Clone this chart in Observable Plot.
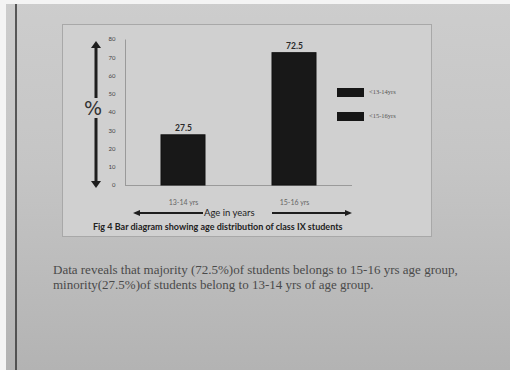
<!DOCTYPE html>
<html>
<head>
<meta charset="utf-8">
<script src="https://cdn.jsdelivr.net/npm/d3@7"></script>
<script src="https://cdn.jsdelivr.net/npm/@observablehq/plot@0.6"></script>
<style>
  html, body { margin: 0; padding: 0; background: #fff; }
  #page {
    position: relative; width: 510px; height: 370px; overflow: hidden;
    background: linear-gradient(180deg, #cdcdcd 0%, #c5c5c5 45%, #b3b3b3 100%);
  }
  #whiteTop { position: absolute; left: 0; top: 0; width: 510px; height: 4px; background: #f4f4f4; }
  #whiteLeft { position: absolute; left: 0; top: 0; width: 6px; height: 370px; background: #f4f4f4; }
  #margin { position: absolute; left: 15px; top: 4px; width: 2px; height: 366px; background: #3a3a3a; opacity: 0.8; }
  #box {
    position: absolute; left: 62px; top: 24px; width: 370px; height: 213px;
    background: #d0d0d0; border: 1px solid #a8a8a8; box-sizing: border-box;
  }
  #chart { position: absolute; left: 62px; top: 24px; }
  .txt { position: absolute; white-space: nowrap; font-family: Lato, sans-serif; color: #222; }
  .legsw { position: absolute; width: 27px; height: 9px; background: #161616; }
  .legtx { position: absolute; font-family: "Liberation Serif", serif; font-size: 6.5px; color: #555; white-space: nowrap; }
  #body { position: absolute; left: 53px; top: 262px; font-family: "Liberation Serif", serif; font-size: 13px; line-height: 15px; color: #4a4a4a; white-space: nowrap; }
</style>
</head>
<body>
<div id="page">
  <div id="whiteTop"></div>
  <div id="whiteLeft"></div>
  <div id="margin"></div>
  <div id="box"></div>
  <div id="chart"></div>
  <div id="legend"></div>
  <div id="deco"></div>
  <div id="body"></div>
</div>
<script>
// ---- data ----
const categories = ["13-14 yrs", "15-16 yrs"];
const values = [27.5, 72.5];
const valueLabels = ["27.5", "72.5"];
const yTicks = [0, 10, 20, 30, 40, 50, 60, 70, 80];
const legendLabels = ["<13-14yrs", "<15-16yrs"];
const yLabel = "%";
const xLabel = "Age in years";
const caption = "Fig 4 Bar diagram showing age distribution of class IX students";
const bodyLines = [
  "Data reveals that majority (72.5%)of students  belongs to 15-16 yrs age group,",
  "minority(27.5%)of students belong to 13-14 yrs of age group."
];

const data = categories.map((c, i) => ({cat: c, val: values[i], lab: valueLabels[i]}));

const W = 370, H = 213, mL = 63, mR = 80, mT = 15, mB = 52;
const iw = W - mL - mR, ih = H - mT - mB;

const chart = Plot.plot({
  width: W,
  height: H,
  marginLeft: mL,
  marginRight: mR,
  marginTop: mT,
  marginBottom: mB,
  style: {background: "transparent", fontFamily: "Lato, sans-serif", color: "#555"},
  x: {domain: categories, paddingInner: 0.6, paddingOuter: 0.32, label: null},
  y: {domain: [0, 80], label: null},
  marks: [
    // left side of the frame only (y axis line)
    Plot.frame({stroke: "#9a9a9a", strokeDasharray: `0 ${2 * iw + ih} ${ih} 0`}),
    Plot.ruleY([0], {stroke: "#9a9a9a"}),
    Plot.barY(data, {x: "cat", y: "val", fill: "#181818", stroke: "#111"}),
    Plot.text(data, {x: "cat", y: "val", text: "lab", dy: -7, fontSize: 8.5, fontWeight: "bold", fill: "#2a2a2a"}),
    Plot.axisY({ticks: yTicks, tickSize: 0, tickPadding: 10, fontSize: 6, fill: "#444", label: null}),
    Plot.axisX({tickSize: 0, tickPadding: 15, fontSize: 7, fill: "#666", label: null})
  ]
});
document.getElementById("chart").appendChild(chart);

// legend
const leg = document.getElementById("legend");
legendLabels.forEach((t, i) => {
  const top = [88, 112][i];
  const sw = document.createElement("div");
  sw.className = "legsw"; sw.style.left = "337px"; sw.style.top = top + "px";
  leg.appendChild(sw);
  const tx = document.createElement("div");
  tx.className = "legtx"; tx.style.left = "369px"; tx.style.top = (top + 0) + "px";
  tx.textContent = t;
  leg.appendChild(tx);
});

// decorations: arrows and labels
const deco = document.getElementById("deco");
deco.innerHTML = `
  <svg width="510" height="370" style="position:absolute;left:0;top:0;overflow:visible">
    <g stroke="#1e1e1e" fill="#1e1e1e">
      <line x1="96" y1="46" x2="96" y2="98" stroke-width="3"/>
      <path d="M91,48 L96,41 L101,48 Z" stroke="none"/>
      <line x1="96" y1="118" x2="96" y2="183" stroke-width="3"/>
      <path d="M91,181 L96,188 L101,181 Z" stroke="none"/>
      <line x1="137" y1="213" x2="203" y2="213" stroke-width="1.8"/>
      <path d="M140,210 L133,213 L140,216 Z" stroke="none"/>
      <line x1="272" y1="213" x2="348" y2="213" stroke-width="1.8"/>
      <path d="M345,210 L352,213 L345,216 Z" stroke="none"/>
    </g>
  </svg>`;
function addText(str, left, top, size, weight, color, family) {
  const d = document.createElement("div");
  d.className = "txt";
  d.textContent = str;
  d.style.left = left + "px"; d.style.top = top + "px";
  d.style.fontSize = size + "px";
  d.style.fontWeight = weight;
  if (color) d.style.color = color;
  if (family) d.style.fontFamily = family;
  deco.appendChild(d);
  return d;
}
addText(yLabel, 84, 97, 19, "normal", "#333", "'DejaVu Sans', sans-serif");
addText(xLabel, 204, 207, 9.5, "normal", "#222");
addText(caption, 93, 221, 9, "bold", "#222");

// body text
const body = document.getElementById("body");
bodyLines.forEach(l => { const d = document.createElement("div"); d.textContent = l; body.appendChild(d); });
</script>
</body>
</html>
